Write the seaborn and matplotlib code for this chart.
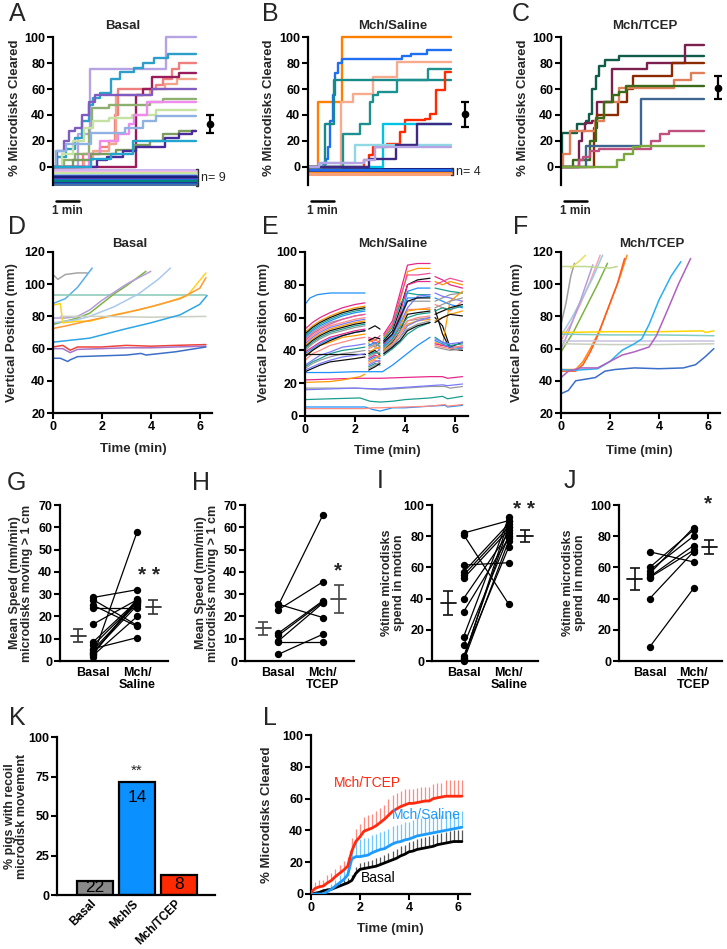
import numpy as np
import pandas as pd
import matplotlib
matplotlib.use("Agg")
import matplotlib.pyplot as plt
import seaborn as sns

# ======================= DATA =======================
T_END = 6.35
# ---- A: Basal, % microdisks cleared (step traces)
A_colors = ['#b5a3e3', '#2b9fc8', '#ef7f7f', '#f3a58c', '#9b1c5b', '#7e5cc0', '#8db06f',
            '#c6e2a2', '#ef8aef', '#8fb2e2', '#7b9c5c', '#4b2a9b', '#22a6cf']
A_times = [[0, 1.1, 1.65, 5.05],
           [0, 0.2, 0.6, 1.0, 1.3, 1.6, 1.8, 2.1, 2.6, 3.0, 3.6, 4.0, 4.5, 5.1],
           [0, 1.35, 2.1, 2.5, 2.75, 2.9, 4.6, 4.9, 5.3, 5.6],
           [0, 1.4, 1.8, 2.5, 2.8, 4.3, 5.0, 5.5],
           [0, 3.7, 4.0, 4.4, 5.6],
           [0, 0.2, 0.5, 0.7, 1.0, 1.3, 1.6, 1.85, 4.4],
           [0, 0.5, 1.0, 1.6, 1.75, 2.5, 4.3, 4.9],
           [0, 0.4, 0.9, 1.4, 1.8, 2.5, 3.5, 4.6],
           [0, 1.6, 2.1, 2.9, 3.4, 3.6, 4.2],
           [0, 0.15, 0.6, 1.7, 3.2, 4.0, 4.6],
           [0, 0.9, 1.7, 2.8, 3.6, 4.3, 4.9, 5.6],
           [0, 1.95, 2.4, 3.1, 3.7, 5.0, 5.6, 6.2],
           [0, 1.7, 2.6, 3.55]]
A_levels = [[0, 25, 75, 100],
            [0, 8, 14, 22, 35, 48, 53, 57, 68, 73, 76, 80, 84, 87],
            [0, 10, 15, 20, 40, 60, 63, 68, 75, 80],
            [0, 5, 12, 18, 55, 60, 64, 68],
            [0, 55, 60, 69, 72],
            [0, 12, 20, 28, 30, 40, 50, 55, 60],
            [0, 5, 10, 30, 45, 48, 50, 52],
            [0, 10, 20, 30, 35, 38, 40, 44],
            [0, 10, 20, 25, 33, 40, 50],
            [0, 12, 18, 26, 30, 35, 39],
            [0, 5, 10, 13, 17, 20, 25, 28],
            [0, 5, 8, 12, 15, 22, 25, 28],
            [0, 6, 10, 20]]
A_zero_levels = [-2, -3, -4, -5, -6, -7, -8, -9, -10, -11, -12, -13, -14]
A_zero_colors = ['#c9b3f2', '#d8b4f0', '#f5b8e0', '#c8e6a0', '#9fc5e8', '#3f51b5', '#1a237e',
                 '#5e35b1', '#1976d2', '#00897b', '#283593', '#1565c0', '#4a6fa5']
A_n = 9
A_mean, A_sem = 33, 7

# ---- B: Mch/Saline
B_colors = ['#ff7f00', '#1f6ff0', '#f8aa8c', '#178a8a', '#1d9090', '#ff2a00', '#00c4e4',
            '#8fd8e4', '#3e2a82', '#b4a4e4']
B_times = [[0, 0.45, 1.5],
           [0, 0.6, 0.8, 0.9, 1.0, 1.1, 1.2, 1.35, 1.5, 4.2, 4.6, 5.3],
           [0, 1.45, 2.0, 2.9, 3.95],
           [0, 0.75, 1.15],
           [0, 1.55, 2.3, 2.75, 2.9, 3.1, 3.95, 5.35],
           [0, 2.5, 2.7, 2.9, 3.5, 4.1, 4.3, 5.2, 5.45, 5.7, 6.1],
           [0, 3.35],
           [0, 0.6, 2.1],
           [0, 2.7, 3.9, 4.85],
           [0, 0.5, 2.5, 3.0]]
B_levels = [[0, 50, 100],
            [0, 2, 6, 15, 35, 55, 72, 80, 83, 85, 87, 90],
            [0, 50, 56, 69, 81],
            [0, 33, 67],
            [0, 25, 33, 50, 55, 58, 67, 75],
            [0, 5, 9, 15, 18, 27, 36, 37, 41, 59, 73],
            [0, 33],
            [0, 3, 17],
            [0, 6, 17, 33],
            [0, 3, 5, 15]]
B_zero_levels = [-1.5, -2.5, -3.5, -4.5, -5.5]
B_zero_colors = ['#1a237e', '#1f6ff0', '#3949ab', '#ff8c1a', '#f7a07a']
B_n = 4
B_mean, B_sem = 40.5, 9.5

# ---- C: Mch/TCEP
C_colors = ['#0f5c48', '#7a1f4e', '#8b2a00', '#e0805a', '#3a6a1a', '#3f6690', '#c0507e', '#7aa83e']
C_times = [[0, 0.05, 0.7, 1.1, 1.25, 1.4, 1.55, 1.7, 1.95, 2.6],
           [0, 0.8, 0.95, 1.05, 1.4, 1.6, 2.25, 3.85, 5.5],
           [0, 1.45, 1.6, 2.55, 2.95, 3.2, 4.95],
           [0, 0.1, 0.4, 1.5, 1.9, 2.6, 5.05, 5.8],
           [0, 0.55, 1.3, 1.55, 1.9, 2.3, 2.6, 2.9],
           [0, 1.1, 3.55],
           [0, 0.8, 1.0, 1.3, 1.7, 4.0, 4.4, 4.8],
           [0, 2.5, 2.8, 3.2, 3.5]]
C_levels = [[0, 26, 33, 35, 41, 60, 70, 78, 82, 85],
            [0, 20, 28, 34, 35, 50, 75, 80, 94],
            [0, 30, 40, 50, 60, 70, 80],
            [0, 10, 28, 35, 50, 61, 67, 72],
            [0, 5, 20, 38, 50, 55, 58, 62],
            [0, 16, 52],
            [0, 5, 8, 12, 14, 20, 25, 28],
            [0, 5, 10, 15, 16]]
C_mean, C_sem = 61, 9

# ---- D: Basal vertical position traces
D_colors = ['#a6a6a6', '#5aaee8', '#86c9b8', '#7cb342', '#b39ddb', '#a9c8ee', '#ffd21f',
            '#ff9933', '#c9cfc2', '#2ea6e6', '#f0433a', '#a674c8', '#3d6fc6']
D_t = [[0, 0.2, 0.5, 1.0, 1.4],
       [0, 0.5, 1.0, 1.6],
       [0, 2, 4, 6.25],
       [0, 0.5, 1.0, 1.5, 2.0, 2.5, 3.0, 3.8],
       [0, 0.5, 1.0, 1.5, 2.0, 3.0, 4.0],
       [0, 1.0, 1.5, 2.5, 3.5, 4.3, 4.8],
       [0, 0.3, 0.4, 1.0, 1.5, 2.5, 3.5, 4.5, 5.5, 6.25],
       [0, 0.5, 1.5, 2.9, 4.0, 5.2, 6.0, 6.25],
       [0.3, 2, 4, 6.25],
       [0, 1.5, 2.9, 4.0, 5.2, 6.0, 6.3],
       [0, 0.4, 0.7, 1.0, 2.0, 3.0, 4.0, 5.0, 6.25],
       [0, 0.4, 0.7, 1.0, 2.0, 3.0, 4.0, 5.0, 6.25],
       [0, 0.3, 0.6, 0.7, 1.0, 2.0, 3.0, 3.6, 3.8, 5.0, 6.25]]
D_v = [[106, 103, 106, 107, 107],
       [88, 91, 98, 110],
       [93.5, 93.5, 93.5, 93.5],
       [75, 77, 79, 82, 88, 94, 99, 108],
       [79, 79, 80, 84, 90, 100, 108],
       [76, 78, 80, 86, 94, 103, 110],
       [87, 88, 76, 77, 77, 81, 84, 88, 93, 107],
       [72.5, 74, 77.5, 82, 86, 91, 97.5, 104],
       [80, 80, 79.5, 80],
       [64, 66.5, 72, 76, 81, 87.5, 93],
       [61, 62, 59, 61, 61, 62, 61.5, 62, 62.5],
       [60, 60, 57.5, 59.5, 60, 60.5, 60.5, 61, 61.5],
       [54, 54, 52, 53, 55, 55.5, 56, 57, 56, 58, 61]]

# ---- E: Mch/Saline vertical position traces
# continuous traces
E_c_colors = ['#e7298a', '#ff9900', '#999999', '#7b7bff', '#1b9e8e', '#1e90ff', '#ff8a80',
              '#1e90ff', '#1e90ff']
E_c_t = [[0, 1.0, 2.0, 3.0, 4.0, 5.0, 5.5, 5.7, 6.3],
         [0, 1.0, 1.5, 2.2, 2.4],
         [0, 1, 2, 2.6, 3, 4, 5, 5.6, 5.8, 6.3],
         [0, 1, 2, 3, 4, 5, 5.5, 5.7, 6.3],
         [0, 1, 2.2, 2.6, 3.0, 3.5, 4, 5, 5.5, 5.7, 6.3],
         [0, 1, 2.4, 2.7, 3.0, 3.5, 4, 5, 5.6, 5.7, 6.3],
         [0, 1, 2.4, 2.7, 3.0, 4, 5, 5.6, 5.7, 6.3],
         [0, 1, 2, 3.1, 3.5, 4.0, 4.5, 5.0],
         [0, 0.2, 0.5, 1.0, 2.4]]
E_c_v = [[22, 22.5, 23, 23, 23.5, 24, 24, 23, 24],
         [20.5, 21, 22, 24, 25.5],
         [17, 17, 17, 16.5, 16, 17, 18, 18, 17, 18],
         [16, 16.5, 17, 16.5, 17.5, 18.5, 19, 18.5, 19.5],
         [10, 10.5, 11, 9, 8.5, 9, 10, 11, 12, 10.5, 12],
         [5.5, 5.5, 5.5, 4, 3, 5, 5, 6, 6.5, 5.5, 6.5],
         [4.5, 4.5, 4.5, 5, 5, 5.5, 6, 7, 6, 7],
         [26.5, 26.5, 27, 27, 31, 37, 43, 48],
         [68, 72, 74, 75, 75]]
# segmented traces (tracking gaps)
E_t1 = [0, 0.3, 0.6, 1.0, 1.5, 2.0, 2.4]
E_t2 = [2.55, 2.8, 3.0]
E_t3 = [3.15, 3.5, 3.8, 4.1, 4.5, 5.0]
E_t4 = [5.2, 5.5, 5.8, 6.3]
E_colors = ['#e7298a', '#ff9900', '#111111', '#1b9e8e', '#1e90ff', '#999999', '#f0509a',
            '#ff8a80', '#7b7bff', '#ff9900', '#111111', '#1b9e8e', '#999999', '#e7298a',
            '#1e90ff', '#ff9900', '#111111', '#ff8a80', '#7b7bff', '#1b9e8e', '#999999',
            '#111111', '#111111', '#7b7bff']
E_seg1 = [[53, 57, 60, 63, 66, 68, 69], [51, 55, 58, 61, 64, 66, 67], [50, 54, 57, 60, 63, 65, 66],
          [49, 53, 56, 59, 62, 64, 65], [48, 52, 55, 58, 61, 63, 64], [47, 51, 54, 57, 59, 61, 62],
          [46, 50, 53, 56, 59, 61, 62], [45, 49, 52, 55, 57, 59, 60], [44, 48, 51, 54, 56, 58, 59],
          [43, 47, 50, 53, 55, 57, 58], [42, 46, 49, 52, 54, 56, 57], [41, 45, 48, 51, 53, 55, 56],
          [40, 44, 47, 50, 52, 54, 55], [39, 42, 45, 48, 50, 52, 53], [38, 41, 44, 47, 49, 51, 52],
          [37, 40, 43, 45, 48, 49, 50], [36, 40, 43, 46, 49, 51, 52], [34, 38, 40, 43, 45, 47, 48],
          [31, 34, 37, 39, 42, 43, 44], [30, 33, 35, 38, 40, 41, 42], [29, 32, 34, 36, 38, 39, 40],
          [27, 29, 31, 33, 34, 35, 36], [38, 38, 38, 38, 38, 38, 38], [28, 30, 32, 34, 36, 37, 38]]
E_seg2 = [[47, 44, 46], [45, 47, 44], [53, 55, 53], [44, 42, 45], [43, 45, 42], [42, 44, 43],
          [48, 46, 49], [41, 43, 40], [40, 38, 41], [39, 41, 42], [38, 40, 37], [37, 39, 38],
          [36, 38, 39], [35, 37, 36], [34, 36, 35], [33, 35, 37], [46, 48, 47], [32, 34, 33],
          [31, 33, 34], [30, 32, 31], [29, 31, 33], [28, 30, 32], [np.nan] * 3, [np.nan] * 3]
E_seg3 = [[50, 58, 75, 92, 93, 93], [48, 55, 70, 88, 90, 90], [46, 52, 65, 80, 83, 84],
          [47, 54, 68, 75, 74, 74], [45, 50, 60, 72, 72, 73], [44, 50, 58, 70, 70, 70],
          [49, 56, 72, 86, 86, 87], [43, 48, 55, 65, 65, 66], [42, 47, 56, 66, 73, 74],
          [41, 46, 55, 64, 65, 65], [40, 45, 52, 62, 63, 64], [42, 47, 54, 60, 62, 63],
          [41, 46, 52, 58, 59, 60], [44, 50, 62, 80, 82, 82], [43, 49, 58, 76, 78, 78],
          [40, 44, 50, 56, 58, 59], [45, 50, 60, 70, 72, 72], [39, 44, 50, 58, 60, 61],
          [38, 42, 48, 55, 58, 60], [37, 41, 45, 50, 54, 57], [39, 43, 48, 53, 56, 58],
          [38, 42, 46, 52, 55, 57], [np.nan] * 6, [np.nan] * 6]
E_seg4 = [[85, 83, 80, 78], [82, 80, 82, 80], [60, 55, 42, 45], [78, 77, 76, 75], [72, 70, 68, 66],
          [70, 72, 74, 75], [80, 82, 84, 82], [68, 66, 64, 70], [75, 73, 72, 70], [45, 43, 70, 76],
          [65, 50, 41, 40], [48, 45, 43, 44], [66, 68, 70, 72], [44, 43, 42, 42], [46, 44, 42, 41],
          [58, 60, 62, 64], [62, 64, 66, 68], [43, 42, 41, 43], [47, 45, 44, 45], [64, 66, 65, 67],
          [42, 41, 40, 41], [57, 60, 62, 61], [np.nan] * 4, [np.nan] * 4]

# ---- F: Mch/TCEP vertical position traces
F_colors = ['#a0a0a0', '#f4a6b4', '#9ecae1', '#7cb342', '#b39ddb', '#c0d890', '#e8e060',
            '#ff8c1a', '#ff5a1f', '#ffd500', '#80cbc4', '#c8c0e0', '#c8d0c0', '#29b0f0',
            '#b060c0', '#3a6ec8']
F_t = [[0, 0.2, 0.4, 0.55],
       [0, 0.4, 0.8, 1.2, 1.6],
       [0, 0.4, 0.9, 1.3, 1.7],
       [0, 0.5, 1.0, 1.5, 1.9],
       [0, 0.3, 0.8, 1.3],
       [0, 1, 2, 2.3],
       [0.4, 0.8, 1.0],
       [0, 0.6, 0.9, 1.2, 1.6, 2.0, 2.4, 2.7],
       [0, 0.6, 0.9, 1.2, 1.5, 1.9, 2.3, 2.6],
       [0, 2, 4, 5.8, 5.9, 6.25],
       [0, 2, 4, 6.25],
       [0, 6.25],
       [0, 2, 4, 6.25],
       [0, 0.5, 1.5, 2.0, 2.5, 3.0, 3.3, 3.6, 4.0, 4.5, 4.9],
       [0, 0.3, 0.8, 1.5, 2.0, 2.5, 3.0, 3.6, 3.9, 4.3, 4.8, 5.3],
       [0, 0.3, 0.6, 1.0, 1.4, 1.8, 2.2, 3.0, 4.0, 5.0, 5.5, 5.9, 6.25]]
F_v = [[75, 88, 105, 113],
       [65, 75, 88, 102, 118],
       [68, 78, 92, 104, 118],
       [58, 70, 85, 100, 113],
       [60, 70, 90, 112],
       [111, 111, 110, 111],
       [110, 115, 118],
       [47, 47, 52, 60, 72, 88, 104, 118],
       [46, 46, 50, 58, 68, 84, 100, 116],
       [70, 70.5, 70.5, 71, 70, 71],
       [69, 68.5, 68.5, 68],
       [64.5, 64.5],
       [63, 62.5, 62.5, 63],
       [47, 46.5, 47.5, 52, 59, 63, 66, 75, 90, 105, 114],
       [42, 46, 48, 48, 52, 56, 58, 61, 68, 82, 100, 116],
       [32, 34, 40, 41, 42, 46, 47, 48, 47.5, 48, 50, 55, 60]]

# ---- G-J paired data
G_basal = [28.5, 27.5, 25, 24, 16.5, 8.5, 7, 5, 4, 3, 2.5, 2, 5.5, 3.5]
G_mch = [32, 16, 15.5, 24, 27.5, 27, 26.5, 26, 25, 28, 20, 58, 10.5, 27]
G_mean, G_sem = [11.3, 24.2], [2.9, 3.0]
H_basal = [25, 23, 25.5, 12.5, 11.5, 9, 8.5, 3]
H_mch = [65.5, 35.5, 19.5, 27, 26.5, 26, 8.5, 12]
H_mean, H_sem = [14.7, 27.7], [3.0, 6.3]
I_basal = [82, 81, 61.5, 57, 55, 53, 40, 31.5, 15.5, 10, 3, 2, 1, 0]
I_mch = [90, 36.5, 63, 88, 86, 84, 82, 79, 92, 80, 73, 86, 90, 77]
I_mean, I_sem = [37.3, 80.0], [7.8, 3.8]
J_basal = [70, 60, 58, 56, 54, 53.5, 40, 9]
J_mch = [63.5, 84, 80, 85.5, 74, 71, 70, 46.5]
J_mean, J_sem = [52.5, 73.3], [7.0, 4.5]

# ---- K
K_groups = ['Basal', 'Mch/S', 'Mch/TCEP']
K_pct = [9.1, 71.4, 12.5]
K_n = [22, 14, 8]
K_colors = ['#8a8a8a', '#0a90ff', '#ff2a00']

# ---- L: mean % cleared with SEM
L_time = [i / 6 for i in range(38)]
L_tcep = [1, 3.5, 4.5, 5, 7, 8.5, 11, 13, 15, 17.5, 27, 33, 36, 39.5, 40.5, 41.5, 43, 45, 47,
          49.5, 52, 53.5, 55, 56, 57, 57, 57.5, 58, 58.5, 58.5, 60, 60.5, 61, 61.5, 61.5, 61.5,
          61.5, 61.5]
L_tcep_sem = [0, 4, 4, 4, 5, 5, 5, 5, 6, 6, 8, 8, 8, 9, 9, 9, 9, 9, 9, 10, 10, 10, 10, 10, 9,
              9, 9, 9, 9, 9, 9, 9, 9, 10, 10, 10, 10, 10]
L_sal = [0, 0, 0, 0, 1.5, 3, 5, 7, 9, 12, 22, 23.5, 23.5, 24, 24.5, 26, 27, 28, 28.5, 30, 31.5,
         32.5, 33, 34, 34.5, 35.5, 36.5, 37, 37.5, 38, 38.5, 39, 39.5, 40, 40.5, 41, 41.5, 42]
L_sal_sem = [0, 0, 0, 0, 2, 3, 4, 5, 6, 7, 11, 11, 11, 11, 11, 11, 11, 11, 11, 11, 11, 11, 11,
             11, 11, 11, 11, 11, 11, 11, 10, 10, 10, 10, 10, 10, 10, 10]
L_bas = [0, 0.5, 1, 2, 2.5, 3, 4, 5, 6, 7, 8.5, 13, 15.5, 16, 16.5, 17, 17.5, 18.5, 19.5, 20.5,
         21.5, 22.5, 24, 25, 26.5, 27, 28, 28.5, 29, 29.5, 30, 31, 31.5, 32, 32.5, 33, 33, 33]
L_bas_sem = [0, 0.5, 1, 1, 1.5, 1.5, 2, 2, 2.5, 3, 3.5, 4, 4, 4, 4.5, 4.5, 5, 5, 5, 5.5, 5.5,
             6, 6, 6, 6, 6.5, 6.5, 6.5, 7, 7, 7, 7, 7, 7, 7, 7, 7, 7]

# ======================= FIGURE =======================
sns.set_theme(style="ticks")
plt.rcParams['font.family'] = ['Liberation Sans', 'DejaVu Sans']
plt.rcParams['font.weight'] = 'bold'
plt.rcParams['axes.labelweight'] = 'bold'

W, H = 727, 949
fig = plt.figure(figsize=(W / 100, H / 100), dpi=100)


def axpx(l, t, r, b):
    return fig.add_axes([l / W, 1 - b / H, (r - l) / W, (b - t) / H])


def ftext(x, y, s, **kw):
    kw.setdefault('ha', 'center')
    kw.setdefault('va', 'center')
    fig.text(x / W, 1 - y / H, s, **kw)


def base_style(ax):
    sns.despine(ax=ax)
    for s in ['left', 'bottom']:
        ax.spines[s].set_linewidth(1.6)
        ax.spines[s].set_color('black')
    ax.tick_params(width=1.5, length=4, labelsize=9, pad=1.5, colors='black')
    ax.set_xlabel('')
    ax.set_ylabel('')
    ax.set_facecolor('none')


def line(ax, x, y, color, lw=1.0, steps=False, z=2):
    x = np.asarray(x, float)
    y = np.asarray(y, float)
    idx = np.where(~np.isnan(y))[0]
    if len(idx) == 0:
        return
    runs = np.split(idx, np.where(np.diff(idx) != 1)[0] + 1)
    for r in runs:
        sns.lineplot(x=x[r], y=y[r], ax=ax, color=color, lw=lw, estimator=None, sort=False,
                     legend=False, drawstyle='steps-post' if steps else 'default', zorder=z)


# ---------- A, B, C ----------
def clear_panel(left, times, levels, colors, zl, zc, n, mean, sem, title_xy, title):
    ax = axpx(left, 30.5, left + 164, 186.5)
    for c, zy in zip(zc, zl):
        line(ax, [0, T_END], [zy, zy], c, lw=2.2)
    for t, v, c in zip(times, levels, colors):
        line(ax, list(t) + [T_END], list(v) + [v[-1]], c, lw=1.7, steps=True)
    ax.errorbar(7.0, mean, yerr=sem, fmt='o', color='black', ms=4.5, capsize=3,
                elinewidth=1.6, capthick=1.6, clip_on=False)
    base_style(ax)
    ax.set_xlim(0, 7.3)
    ax.set_ylim(-15, 105)
    ax.set_yticks([0, 20, 40, 60, 80, 100])
    ax.spines['bottom'].set_visible(False)
    ax.spines['left'].set_bounds(-13.5, 100)
    ax.set_xticks([])
    # scale bar 1 min
    ax.plot([0.15, 1.15], [-26, -26], color='black', lw=1.8, clip_on=False)
    ax.text(0.65, -33.5, '1 min', ha='center', va='center', fontsize=8.5, fontweight='bold')
    if n is not None:
        lo = zl[-1] - 0.8
        hi = zl[0] + 0.6
        ax.plot([T_END + 0.02, T_END + 0.12, T_END + 0.12, T_END + 0.02], [hi, hi, lo, lo],
                color='#333333', lw=1.0, clip_on=False)
        ax.text(T_END + 0.25, (hi + lo) / 2, 'n= %d' % n, ha='left', va='center',
                fontsize=9, fontweight='normal', color='#222222')
    ftext(*title_xy, title, fontsize=9.5, fontweight='bold')
    return ax


clear_panel(53, A_times, A_levels, A_colors, A_zero_levels, A_zero_colors, A_n, A_mean, A_sem,
            (123, 26), 'Basal')
clear_panel(308, B_times, B_levels, B_colors, B_zero_levels, B_zero_colors, B_n, B_mean, B_sem,
            (393, 26), 'Mch/Saline')
clear_panel(561, C_times, C_levels, C_colors, [], [], None, C_mean, C_sem, (645, 26), 'Mch/TCEP')

# ---------- D, E, F ----------
def pos_style(ax, ylo, yhi, yt):
    base_style(ax)
    ax.set_xlim(0, 6.5)
    ax.set_ylim(ylo, yhi)
    ax.set_xticks([0, 2, 4, 6])
    ax.set_yticks(yt)


axD = axpx(53, 252, 212, 413)
for t, v, c in zip(D_t, D_v, D_colors):
    line(axD, t, v, c, lw=1.1)
pos_style(axD, 20, 120, [20, 40, 60, 80, 100, 120])

axE = axpx(305, 252, 467.5, 416)
for t, v, c in zip(E_c_t, E_c_v, E_c_colors):
    line(axE, t, v, c, lw=0.9)
for i, c in enumerate(E_colors):
    line(axE, E_t1, E_seg1[i], c, lw=0.9)
    line(axE, E_t2, E_seg2[i], c, lw=0.9)
    line(axE, E_t3, E_seg3[i], c, lw=0.9)
    line(axE, E_t4, E_seg4[i], c, lw=0.9)
pos_style(axE, 0, 100, [0, 20, 40, 60, 80, 100])

axF = axpx(561, 252, 720, 413)
for t, v, c in zip(F_t, F_v, F_colors):
    line(axF, t, v, c, lw=1.1)
pos_style(axF, 20, 120, [20, 40, 60, 80, 100, 120])

for (tx, ty), (lx, ly), title in [((130, 244), (12, 333), 'Basal'),
                                  ((393, 244), (264, 333), 'Mch/Saline'),
                                  ((652, 244), (517, 333), 'Mch/TCEP')]:
    ftext(tx, ty, title, fontsize=9.5, fontweight='bold')
    ftext(lx, ly, 'Vertical Position (mm)', fontsize=9.5, fontweight='bold', rotation=90)
for x, y in [(133, 449), (387, 451), (639, 451)]:
    ftext(x, y, 'Time (min)', fontsize=9.5, fontweight='bold')

# ---------- G, H, I, J ----------
def paired(l, r, xlim, basal, mch, mean, sem, ylim, yt, xlab2, star, star_xy, mcol):
    ax = axpx(l, 505, r, 661)
    df = pd.DataFrame({'pair': list(range(len(basal))) * 2,
                       'cond': [1] * len(basal) + [2] * len(mch),
                       'val': list(basal) + list(mch)})
    sns.lineplot(data=df, x='cond', y='val', units='pair', estimator=None, color='black',
                 lw=0.9, ax=ax, legend=False)
    sns.scatterplot(data=df, x='cond', y='val', color='black', s=28, edgecolor='black',
                    linewidth=0, ax=ax, zorder=3, clip_on=False, legend=False)
    for x, m, s in zip([0.66, 2.36], mean, sem):
        ax.errorbar(x, m, yerr=s, fmt='none', ecolor=mcol, elinewidth=1.2, capsize=3.5,
                    capthick=1.2)
        ax.plot([x - 0.17, x + 0.17], [m, m], color=mcol, lw=1.3)
    base_style(ax)
    ax.set_xlim(*xlim)
    ax.set_ylim(*ylim)
    ax.set_yticks(yt)
    ax.set_xticks([1, 2])
    ax.set_xticklabels(['Basal', 'Mch/\n' + xlab2], fontsize=9, fontweight='bold',
                       linespacing=1.05)
    ax.tick_params(axis='x', length=0, pad=4)
    ax.text(star_xy[0], star_xy[1], star, ha='center', va='center', fontsize=15,
            fontweight='bold', clip_on=False)
    return ax


paired(60, 168, (0.25, 2.7), G_basal, G_mch, G_mean, G_sem, (0, 70), range(0, 71, 10),
       'Saline', '* *', (2.27, 38.5), '#333333')
paired(245, 354, (0.25, 2.7), H_basal, H_mch, H_mean, H_sem, (0, 70), range(0, 71, 10),
       'TCEP', '*', (2.33, 40.5), '#444444')
paired(432, 538, (0.3, 2.65), I_basal, I_mch, I_mean, I_sem, (0, 100), range(0, 101, 20),
       'Saline', '* *', (2.33, 97), '#111111')
paired(619, 722, (0.3, 2.65), J_basal, J_mch, J_mean, J_sem, (0, 100), range(0, 101, 20),
       'TCEP', '*', (2.33, 101), '#111111')
for x in [21, 207]:
    ftext(x, 583, 'Mean Speed (mm/min)\nmicrodisks moving > 1 cm', fontsize=9,
          fontweight='bold', rotation=90, linespacing=1.05)
for x in [393, 574]:
    ftext(x, 583, '%time microdisks\nspend in motion', fontsize=9, fontweight='bold',
          rotation=90, linespacing=1.05)

# ---------- K ----------
axK = axpx(57, 737, 215, 895)
kdf = pd.DataFrame({'group': K_groups, 'pct': K_pct})
sns.barplot(data=kdf, x='group', y='pct', hue='group', palette=K_colors, width=0.86,
            edgecolor='black', linewidth=1.6, ax=axK, legend=False, saturation=1)
base_style(axK)
axK.set_xlim(-0.905, 2.86)
axK.set_ylim(0, 100)
axK.set_yticks([0, 25, 50, 75, 100])
axK.set_xticks([0, 1, 2])
axK.set_xticklabels(K_groups, rotation=45, ha='right', va='center', rotation_mode='anchor',
                    fontsize=8.5, fontweight='bold')
axK.tick_params(axis='x', length=0, pad=5)
for i, (p, n) in enumerate(zip(K_pct, K_n)):
    ty = 62 if p > 30 else p / 2 + 0.3
    axK.text(i, ty, str(n), ha='center', va='center', fontsize=12.5,
             fontweight='normal', color='black')
axK.text(1, 78.5, '**', ha='center', va='center', fontsize=11, fontweight='normal')
ftext(16, 816, '% pigs with recoil\nmicrodisk movement', fontsize=9, fontweight='bold',
      rotation=90, linespacing=1.05)

# ---------- L ----------
axL = axpx(311, 735, 470, 894)
for m, s, c, ec in [(L_bas, L_bas_sem, 'black', '#555555'),
                    (L_sal, L_sal_sem, '#1e9bff', '#6cc8ff'),
                    (L_tcep, L_tcep_sem, '#ff2a10', '#ff8a80')]:
    m = np.asarray(m, float)
    s = np.asarray(s, float)
    axL.vlines(L_time, m, m + s, color=ec, lw=0.9, zorder=1)
    line(axL, L_time, m, c, lw=2.0, z=3)
base_style(axL)
axL.set_xlim(0, 6.5)
axL.set_ylim(0, 100)
axL.set_xticks([0, 2, 4, 6])
axL.set_yticks([0, 20, 40, 60, 80, 100])
axL.text(2.29, 70, 'Mch/TCEP', color='#ff2a10', fontsize=10, fontweight='normal',
         ha='center', va='center')
axL.text(4.73, 49.7, 'Mch/Saline', color='#1e9bff', fontsize=10, fontweight='normal',
         ha='center', va='center')
axL.text(2.73, 10, 'Basal', color='black', fontsize=10, fontweight='normal',
         ha='center', va='center')
ftext(267, 815, '% Microdisks Cleared', fontsize=9.5, fontweight='bold', rotation=90)
ftext(390, 929, 'Time (min)', fontsize=9.5, fontweight='bold')

# ---------- y labels A-C ----------
for x in [15, 269, 523]:
    ftext(x, 108, '% Microdisks Cleared', fontsize=9.5, fontweight='bold', rotation=90)

# ---------- panel letters ----------
for s, x, y in [('A', 17, 14), ('B', 270, 14), ('C', 521, 14), ('D', 17, 227), ('E', 270, 227),
                ('F', 521, 227), ('G', 16, 483), ('H', 201, 483), ('I', 380, 481),
                ('J', 570, 481), ('K', 17, 718), ('L', 270, 718)]:
    ftext(x, y, s, fontsize=18, fontweight='normal')

fig.savefig('out.png', dpi=100)
